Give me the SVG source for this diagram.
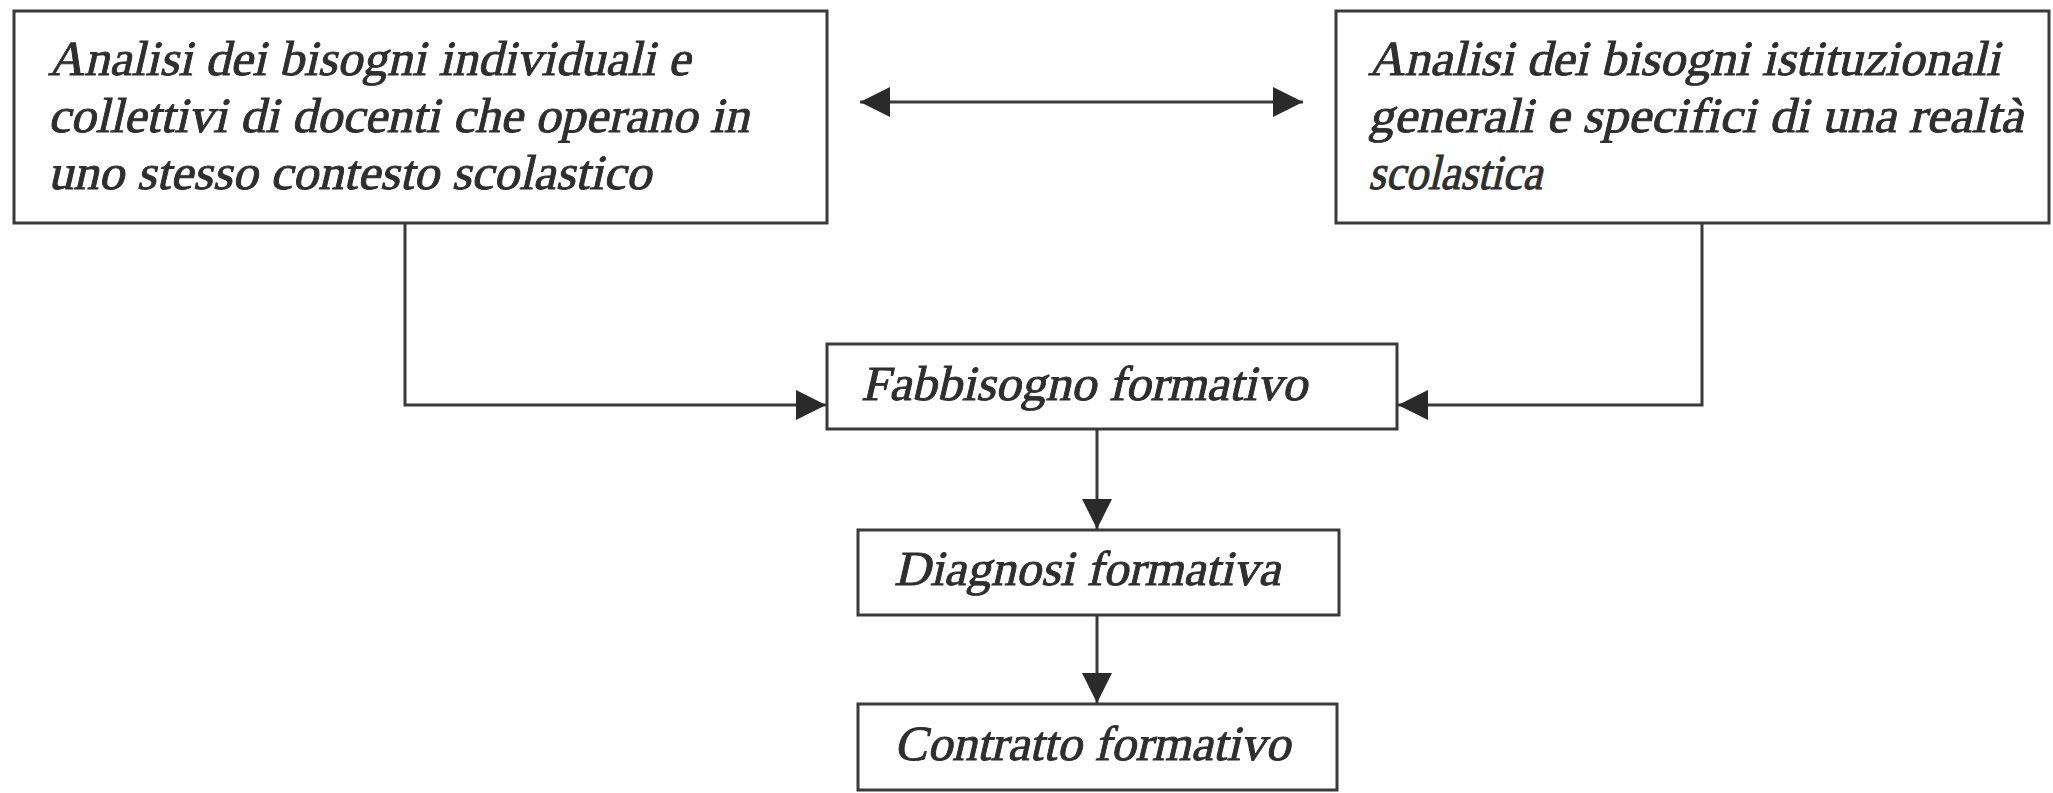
<svg xmlns="http://www.w3.org/2000/svg" width="2053" height="793" viewBox="0 0 2053 793">
<style>
.box{fill:#fff;stroke:#3a3a3a;stroke-width:3}
.t{font-family:"Liberation Serif","Times New Roman",serif;font-size:49px;fill:#2e2e2e;stroke:#2e2e2e;stroke-width:0.9}
.c{fill:none;stroke:#3a3a3a;stroke-width:3}
</style>
<defs>
<marker id="ah" viewBox="0 0 10 10" refX="10" refY="5" markerWidth="30" markerHeight="30" markerUnits="userSpaceOnUse" orient="auto-start-reverse">
<path d="M0,0 L10,5 L0,10 Z" fill="#2a2a2a"/>
</marker>
</defs>
<rect width="2053" height="793" fill="#fff"/>
<g id="connectors">
<line class="c" x1="860" y1="102" x2="1303" y2="102" marker-start="url(#ah)" marker-end="url(#ah)"/>
<polyline class="c" points="405,223 405,405 826,405" marker-end="url(#ah)"/>
<polyline class="c" points="1702,223 1702,405 1398,405" marker-end="url(#ah)"/>
<line class="c" x1="1097" y1="429" x2="1097" y2="529" marker-end="url(#ah)"/>
<line class="c" x1="1097" y1="615" x2="1097" y2="703" marker-end="url(#ah)"/>
</g>
<g id="n1">
<rect class="box" x="14" y="11" width="813" height="212"/>
<text class="t" transform="translate(48,75) skewX(-13)" textLength="642" lengthAdjust="spacingAndGlyphs">Analisi dei bisogni individuali e</text>
<text class="t" transform="translate(48,132) skewX(-13)" textLength="701" lengthAdjust="spacingAndGlyphs">collettivi di docenti che operano in</text>
<text class="t" transform="translate(48,189) skewX(-13)" textLength="603" lengthAdjust="spacingAndGlyphs">uno stesso contesto scolastico</text>
</g>
<g id="n2">
<rect class="box" x="1336" y="11" width="713" height="212"/>
<text class="t" transform="translate(1368,75) skewX(-13)" textLength="632" lengthAdjust="spacingAndGlyphs">Analisi dei bisogni istituzionali</text>
<text class="t" transform="translate(1368,132) skewX(-13)" textLength="655" lengthAdjust="spacingAndGlyphs">generali e specifici di una realtà</text>
<text class="t" transform="translate(1368,189) skewX(-13)" textLength="174" lengthAdjust="spacingAndGlyphs">scolastica</text>
</g>
<g id="n3">
<rect class="box" x="827" y="344" width="570" height="85"/>
<text class="t" transform="translate(861,400) skewX(-13)" textLength="446" lengthAdjust="spacingAndGlyphs">Fabbisogno formativo</text>
</g>
<g id="n4">
<rect class="box" x="858" y="530" width="481" height="85"/>
<text class="t" transform="translate(894,585) skewX(-13)" textLength="386" lengthAdjust="spacingAndGlyphs">Diagnosi formativa</text>
</g>
<g id="n5">
<rect class="box" x="858" y="704" width="479" height="86"/>
<text class="t" transform="translate(894,760) skewX(-13)" textLength="396" lengthAdjust="spacingAndGlyphs">Contratto formativo</text>
</g>
</svg>
